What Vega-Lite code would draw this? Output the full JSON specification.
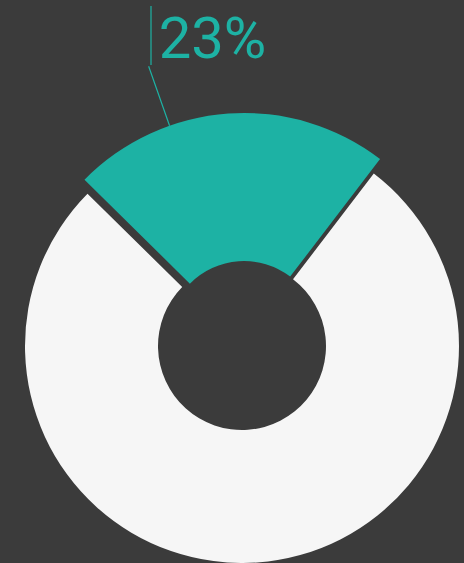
{
  "$schema": "https://vega.github.io/schema/vega-lite/v6.json",
  "width": 464,
  "height": 563,
  "autosize": {"type": "none"},
  "padding": 0,
  "background": "#3b3b3b",
  "config": {"view": {"stroke": null}},
  "data": {"values": [
    {"category": "Yes", "value": 23, "label": "23%"},
    {"category": "No", "value": 77, "label": "77%"}
  ]},
  "transform": [
    {"stack": "value", "groupby": [], "sort": [{"field": "category", "order": "descending"}], "as": ["v0", "v1"]},
    {"calculate": "(datum.v0 + datum.v1) / 2", "as": "mid"}
  ],
  "layer": [
    {
      "transform": [{"filter": "datum.category === 'No'"}],
      "mark": {"type": "arc", "radius": 217, "radius2": 84, "fill": "#f6f6f6", "xOffset": 10, "yOffset": 64.5},
      "encoding": {
        "theta": {"field": "v0", "type": "quantitative", "stack": null, "scale": {"domain": [0, 100], "range": [-0.7924, 5.4908]}},
        "theta2": {"field": "v1"}
      }
    },
    {
      "transform": [{"filter": "datum.category === 'Yes'"}],
      "mark": {"type": "arc", "radius": 224, "radius2": 76, "fill": "#1db2a4", "xOffset": 12, "yOffset": 55.5},
      "encoding": {
        "theta": {"field": "v0", "type": "quantitative", "stack": null},
        "theta2": {"field": "v1"}
      }
    },
    {
      "transform": [{"filter": "datum.category === 'Yes'"}],
      "mark": {"type": "arc", "radius": 287, "radius2": 224, "fill": null, "stroke": "#1db2a4", "strokeWidth": 1.2, "thetaOffset": 0.4537, "theta2Offset": 0.4537, "xOffset": 12, "yOffset": 55.5},
      "encoding": {
        "theta": {"field": "v0", "type": "quantitative", "stack": null},
        "theta2": {"field": "v0"}
      }
    },
    {
      "transform": [{"filter": "datum.category === 'Yes'"}],
      "mark": {"type": "arc", "radius": 331, "radius2": 272, "fill": null, "stroke": "#1db2a4", "strokeWidth": 1.2, "thetaOffset": 0.7924, "theta2Offset": 0.7924, "xOffset": -81, "yOffset": 55.5},
      "encoding": {
        "theta": {"field": "v0", "type": "quantitative", "stack": null},
        "theta2": {"field": "v0"}
      }
    },
    {
      "transform": [{"filter": "datum.category === 'Yes'"}],
      "mark": {"type": "text", "radius": 279.4, "align": "center", "baseline": "alphabetic", "font": "Roboto", "fontWeight": 400, "fontSize": 58, "fill": "#1db2a4", "xOffset": 0, "yOffset": 55.5},
      "encoding": {
        "theta": {"field": "mid", "type": "quantitative", "stack": null},
        "text": {"field": "label"}
      }
    }
  ]
}
